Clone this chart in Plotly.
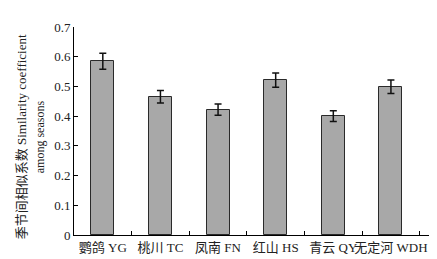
import plotly.graph_objects as go

categories = ["鹦鸽 YG", "桃川 TC", "凤南 FN", "红山 HS", "青云 QY", "无定河 WDH"]
values = [0.585, 0.465, 0.422, 0.521, 0.400, 0.499]
errors = [0.027, 0.021, 0.019, 0.024, 0.018, 0.023]
y_ticks = [0, 0.1, 0.2, 0.3, 0.4, 0.5, 0.6, 0.7]
y_ticklabels = ["0", "0.1", "0.2", "0.3", "0.4", "0.5", "0.6", "0.7"]

FONT = "Liberation Serif, Times New Roman, Noto Sans CJK SC, serif"

fig = go.Figure(go.Bar(
    x=categories, y=values, width=0.4,
    marker=dict(color="#a8a8a8", line=dict(color="#2a2a2a", width=1)),
    error_y=dict(type="data", array=errors, visible=True, color="#111111",
                 thickness=1.5, width=3.5),
))

fig.update_layout(
    width=437, height=259,
    margin=dict(l=66, r=12, t=13, b=29),
    plot_bgcolor="white", paper_bgcolor="white",
    font=dict(family=FONT, size=13, color="#222222"),
    showlegend=False,
    bargap=0,
)
fig.update_xaxes(
    range=[-0.5, 5.73], showline=True, linecolor="black", linewidth=1,
    ticks="inside", tickson="boundaries", ticklen=4, tickcolor="black",
    showgrid=False, tickfont=dict(size=13, family=FONT), zeroline=False,
    tickangle=0,
)
fig.update_yaxes(
    range=[0, 0.7], tickvals=y_ticks, ticktext=y_ticklabels,
    showline=True, linecolor="black", linewidth=1,
    ticks="inside", ticklen=4, tickcolor="black",
    showgrid=False, zeroline=False, tickfont=dict(size=13, family=FONT),
)
fig.add_annotation(
    text="季节间相似系数 Similarity coefficient", textangle=-90,
    xref="paper", yref="paper", x=0, y=0.47, xanchor="center", yanchor="middle",
    xshift=-53, showarrow=False, font=dict(size=13, family=FONT),
)
fig.add_annotation(
    text="among seasons", textangle=-90,
    xref="paper", yref="paper", x=0, y=0.47, xanchor="center", yanchor="middle",
    xshift=-34, showarrow=False, font=dict(size=12, family=FONT),
)
fig.write_html("out.html")
